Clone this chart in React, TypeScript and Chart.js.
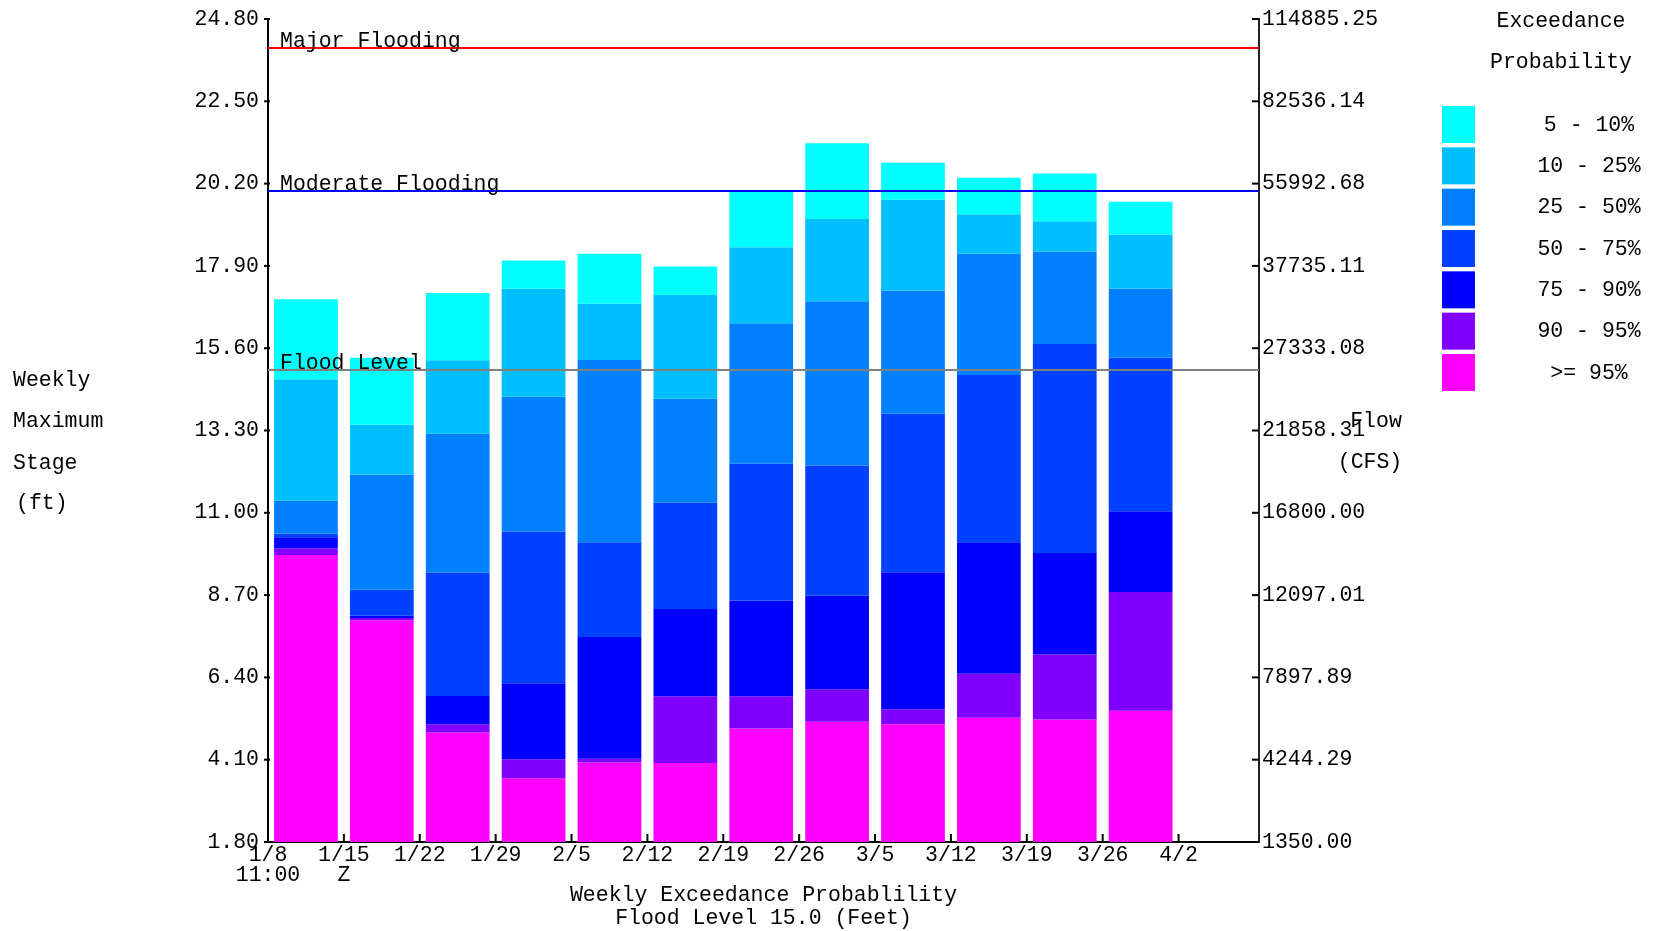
import React, { useEffect, useRef } from 'react';
import { Chart, registerables } from 'chart.js';

Chart.register(...registerables);

// ---------- data ----------
const weekLabels: (string | string[])[] = [
  ['1/8', '11:00'], ['1/15', 'Z'], '1/22', '1/29', '2/5', '2/12', '2/19',
  '2/26', '3/5', '3/12', '3/19', '3/26', '4/2',
];
const probLabels = ['5 - 10%', '10 - 25%', '25 - 50%', '50 - 75%', '75 - 90%', '90 - 95%', '>= 95%'];
const probColors = ['#00FFFF', '#00BFFF', '#0080FF', '#0040FF', '#0000FF', '#8000FF', '#FF00FF'];

// upper edge (stage, ft) of each exceedance band, one value per week
const top5 = [16.97, 15.33, 17.14, 18.05, 18.24, 17.88, 19.98, 21.33, 20.78, 20.36, 20.48, 19.69];
const top10 = [14.73, 13.46, 15.26, 17.26, 16.84, 17.09, 18.42, 19.21, 19.75, 19.34, 19.15, 18.78];
const top25 = [11.34, 12.07, 13.21, 14.24, 15.27, 14.19, 16.30, 16.91, 17.21, 18.24, 18.30, 17.27];
const top50 = [10.42, 8.85, 9.33, 10.48, 10.18, 11.28, 12.37, 12.32, 13.77, 14.85, 15.72, 15.33];
const top75 = [10.32, 8.12, 5.88, 6.24, 7.53, 8.31, 8.55, 8.68, 9.34, 10.18, 9.88, 11.04];
const top90 = [10.01, 8.06, 5.09, 4.11, 4.13, 5.87, 5.87, 6.06, 5.51, 6.50, 7.04, 8.79];
const top95 = [9.82, 8.00, 4.86, 3.58, 4.02, 4.01, 4.97, 5.16, 5.09, 5.27, 5.22, 5.47];

const stageTicks = [1.8, 4.1, 6.4, 8.7, 11.0, 13.3, 15.6, 17.9, 20.2, 22.5, 24.8];
const flowTicks = ['1350.00', '4244.29', '7897.89', '12097.01', '16800.00', '21858.31',
  '27333.08', '37735.11', '55992.68', '82536.14', '114885.25'];

const floodValues = [24.0, 20.0, 15.0];
const floodNames = ['Major Flooding', 'Moderate Flooding', 'Flood Level'];
const floodColors = ['#FF0000', '#0000FF', '#808080'];

const FONT = 'Liberation Mono';
const FS = 21.5;

const bandTops = [top5, top10, top25, top50, top75, top90, top95];

const tickMarks = {
  id: 'tickMarks',
  afterDraw(chart: any) {
    const { ctx, chartArea, scales } = chart;
    ctx.save();
    ctx.strokeStyle = '#000';
    ctx.lineWidth = 2;
    stageTicks.forEach((v) => {
      const y = scales.y.getPixelForValue(v);
      ctx.beginPath();
      ctx.moveTo(chartArea.left - 4, y);
      ctx.lineTo(chartArea.left + 2, y);
      ctx.stroke();
      ctx.beginPath();
      ctx.moveTo(chartArea.right - 7, y);
      ctx.lineTo(chartArea.right, y);
      ctx.stroke();
    });
    weekLabels.forEach((_, i) => {
      const x = scales.x.getPixelForValue(i);
      ctx.beginPath();
      ctx.moveTo(x, chartArea.bottom);
      ctx.lineTo(x, chartArea.bottom - 8);
      ctx.stroke();
    });
    ctx.restore();
  },
};

const floodLines = {
  id: 'floodLines',
  afterDatasetsDraw(chart: any) {
    const { ctx, chartArea, scales } = chart;
    ctx.save();
    floodValues.forEach((v, i) => {
      const y = Math.round(scales.y.getPixelForValue(v));
      ctx.strokeStyle = floodColors[i];
      ctx.lineWidth = 2;
      ctx.beginPath();
      ctx.moveTo(chartArea.left, y);
      ctx.lineTo(chartArea.right, y);
      ctx.stroke();
      ctx.fillStyle = '#000';
      ctx.font = `${FS}px "${FONT}"`;
      ctx.textAlign = 'left';
      ctx.textBaseline = 'alphabetic';
      ctx.fillText(floodNames[i], chartArea.left + 12, y - 1);
    });
    ctx.restore();
  },
};

const sideText = {
  id: 'sideText',
  afterDraw(chart: any) {
    const { ctx } = chart;
    ctx.save();
    ctx.fillStyle = '#000';
    ctx.font = `${FS}px "${FONT}"`;
    ctx.textBaseline = 'middle';
    // left axis title
    ctx.textAlign = 'left';
    ctx.fillText('Weekly', 13, 380);
    ctx.fillText('Maximum', 13, 421.7);
    ctx.fillText('Stage', 13, 463.3);
    ctx.fillText('(ft)', 16, 503.3);
    // right axis title
    ctx.textAlign = 'center';
    ctx.fillText('Flow', 1376, 421);
    ctx.fillText('(CFS)', 1370, 462);
    // legend
    ctx.fillText('Exceedance', 1561, 21);
    ctx.fillText('Probability', 1561, 62);
    probLabels.forEach((lab, k) => {
      const top = 106 + k * 41.33;
      ctx.fillStyle = probColors[k];
      ctx.fillRect(1442, top, 33, 37);
      ctx.fillStyle = '#000';
      ctx.fillText(lab, 1589, top + 19);
    });
    ctx.restore();
  },
};

export default function App() {
  const ref = useRef<HTMLCanvasElement | null>(null);

  useEffect(() => {
    if (!ref.current) return;
    Chart.defaults.font.family = FONT;
    const datasets = probLabels.map((lab, k) => {
      const upper = bandTops[k];
      const lower = k < bandTops.length - 1 ? bandTops[k + 1] : null;
      return {
        label: lab,
        data: upper.map((u, i) => ({ x: i + 0.5, y: [lower ? lower[i] : stageTicks[0], u] })),
        backgroundColor: probColors[k],
        borderWidth: 0,
        grouped: false,
        barPercentage: 0.84,
        categoryPercentage: 1,
      };
    });
    const tickFont = { family: FONT, size: FS, lineHeight: 20 / FS };
    const chart = new Chart(ref.current, {
      type: 'bar',
      data: { datasets: datasets as any },
      options: {
        animation: false,
        responsive: false,
        devicePixelRatio: 1,
        layout: { padding: { top: 16, left: 0, right: 0, bottom: 0 } },
        plugins: { legend: { display: false }, tooltip: { enabled: false } },
        scales: {
          x: {
            type: 'linear',
            offset: false,
            min: 0,
            max: 13.06,
            grid: { display: false, drawTicks: false, offset: false },
            border: { display: true, color: '#000', width: 2 },
            ticks: {
              stepSize: 1,
              autoSkip: false,
              maxRotation: 0,
              minRotation: 0,
              includeBounds: false,
              padding: 3,
              color: '#000',
              font: tickFont,
              callback: (v: any) => {
                const n = Number(v);
                return Number.isInteger(n) && n < weekLabels.length ? (weekLabels[n] as any) : '';
              },
            },
            title: {
              display: true,
              text: ['Weekly Exceedance Probablility', 'Flood Level 15.0 (Feet)'],
              color: '#000',
              font: { family: FONT, size: FS, lineHeight: 23 / FS },
              padding: { top: 0, bottom: 1 },
            },
            afterFit: (s: any) => { s.height = 89; },
          },
          y: {
            type: 'linear',
            position: 'left',
            min: 1.8,
            max: 24.8,
            grid: { display: false, drawTicks: false },
            border: { display: true, color: '#000', width: 2 },
            afterBuildTicks: (s: any) => { s.ticks = stageTicks.map((v) => ({ value: v })); },
            ticks: {
              padding: 9,
              color: '#000',
              font: tickFont,
              callback: (v: any) => Number(v).toFixed(2),
            },
            afterFit: (s: any) => { s.width = 268; },
          },
          y2: {
            type: 'linear',
            position: 'right',
            min: 1.8,
            max: 24.8,
            display: true,
            grid: { display: false, drawTicks: false },
            border: { display: true, color: '#222', width: 2 },
            afterBuildTicks: (s: any) => { s.ticks = stageTicks.map((v) => ({ value: v })); },
            ticks: {
              padding: 3,
              color: '#000',
              font: tickFont,
              callback: (_v: any, i: number) => flowTicks[i],
            },
            afterFit: (s: any) => { s.width = 400; },
          },
        },
      } as any,
      plugins: [floodLines, tickMarks, sideText],
    });
    return () => chart.destroy();
  }, []);

  return (
    <div style={{ position: 'fixed', left: 0, top: 0, width: 1659, height: 931, background: '#fff' }}>
      <canvas ref={ref} width={1659} height={931} style={{ display: 'block' }} />
    </div>
  );
}
